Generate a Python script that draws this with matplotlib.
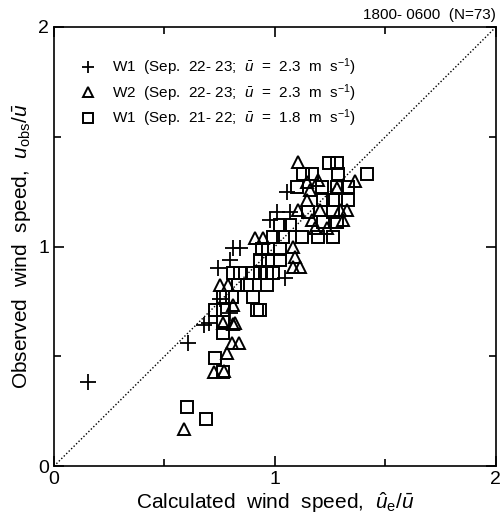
import numpy as np
import matplotlib.pyplot as plt

plt.rcParams['font.family'] = ['Liberation Sans', 'DejaVu Sans']
plt.rcParams['mathtext.fontset'] = 'custom'
plt.rcParams['mathtext.rm'] = 'Liberation Sans'
plt.rcParams['mathtext.it'] = 'Liberation Sans:italic'

# W1 (Sep. 22-23)
w1a_x = [0.154, 0.606, 0.679, 0.796, 0.742, 0.796, 0.810, 0.842, 1.045, 0.977,
         1.009, 1.068, 1.054, 0.752, 0.700]
w1a_y = [0.383, 0.560, 0.642, 0.697, 0.902, 0.938, 0.993, 0.993, 0.857, 1.121,
         1.157, 1.157, 1.248, 0.760, 0.650]

# W2 (Sep. 22-23)
w2_x = [1.104, 1.145, 1.195, 1.362, 1.158, 1.281, 1.145, 1.104, 1.204, 1.294,
        1.326, 1.167, 1.308, 1.181, 1.235, 0.910, 0.946, 1.081, 1.090, 1.081,
        1.113, 0.751, 0.787, 0.810, 0.819, 0.765, 0.810, 0.805, 0.837, 0.783,
        0.724, 0.769, 0.588]
w2_y = [1.385, 1.294, 1.303, 1.298, 1.257, 1.267, 1.212, 1.166, 1.166, 1.166,
        1.166, 1.121, 1.121, 1.084, 1.084, 1.039, 1.039, 0.998, 0.952, 0.907,
        0.907, 0.825, 0.825, 0.733, 0.651, 0.651, 0.647, 0.560, 0.560, 0.515,
        0.428, 0.433, 0.169]

# W1 (Sep. 21-22)
w1b_x = [1.244, 1.281, 1.127, 1.167, 1.285, 1.416, 1.100, 1.213, 1.281, 1.330,
         1.217, 1.262, 1.330, 1.149, 1.262, 1.023, 1.068, 1.217, 1.281, 0.991,
         1.036, 1.122, 1.195, 1.262, 0.941, 0.968, 1.023, 0.932, 0.968, 1.023,
         0.810, 0.842, 0.900, 0.932, 0.964, 0.991, 0.833, 0.873, 0.964, 0.765,
         0.805, 0.900, 0.729, 0.765, 0.919, 0.932, 0.765, 0.765, 0.729, 0.765,
         0.602, 0.688]
w1b_y = [1.380, 1.380, 1.330, 1.330, 1.330, 1.330, 1.271, 1.271, 1.271, 1.271,
         1.212, 1.212, 1.212, 1.157, 1.157, 1.098, 1.098, 1.112, 1.112, 1.043,
         1.043, 1.043, 1.043, 1.043, 0.989, 0.989, 0.989, 0.938, 0.938, 0.938,
         0.879, 0.879, 0.879, 0.879, 0.879, 0.879, 0.825, 0.825, 0.825, 0.770,
         0.770, 0.770, 0.711, 0.711, 0.711, 0.711, 0.656, 0.606, 0.492, 0.428,
         0.269, 0.214]

labels = [r'W1  (Sep.  22- 23;  $\bar{u}$  =  2.3  m  s$^{-1}$)',
          r'W2  (Sep.  22- 23;  $\bar{u}$  =  2.3  m  s$^{-1}$)',
          r'W1  (Sep.  21- 22;  $\bar{u}$  =  1.8  m  s$^{-1}$)']

fig = plt.figure(figsize=(5.04, 5.18), dpi=100)
ax = fig.add_axes([0.107, 0.100, 0.877, 0.848])

ax.plot([0, 2], [0, 2], color='black', linestyle=(0, (1, 1.5)), linewidth=1)
ax.plot(w1a_x, w1a_y, linestyle='none', marker='+', markersize=11,
        markeredgewidth=1.3, color='black', label=labels[0])
ax.plot(w2_x, w2_y, linestyle='none', marker='^', markersize=8,
        markerfacecolor='none', markeredgewidth=1.4, color='black', label=labels[1])
ax.plot(w1b_x, w1b_y, linestyle='none', marker='s', markersize=8,
        markerfacecolor='none', markeredgewidth=1.4, color='black', label=labels[2])

ax.set_xlim(0, 2)
ax.set_ylim(0, 2)
ax.set_xticks([0, 1, 2])
ax.set_yticks([0, 1, 2])
ax.set_xticks([0.5, 1.5], minor=True)
ax.set_yticks([0.5, 1.5], minor=True)
ax.tick_params(which='both', direction='in', top=True, right=True,
               labelsize=14, width=1.2)
ax.tick_params(which='major', length=7)
ax.tick_params(which='minor', length=5)
for s in ax.spines.values():
    s.set_linewidth(1.2)

ax.set_xlabel(r'Calculated  wind  speed,  $\hat{u}_{\rm e}/\bar{u}$', fontsize=15, labelpad=2)
ax.set_ylabel(r'Observed  wind  speed,  $u_{\rm obs}/\bar{u}$', fontsize=15, labelpad=4)
ax.set_title('1800- 0600  (N=73)', fontsize=11, loc='right', pad=6)

ax.legend(loc='upper left', bbox_to_anchor=(0.037, 0.946), frameon=False,
          fontsize=11, handletextpad=0.85, labelspacing=0.25, borderaxespad=0,
          handlelength=1.5, markerscale=0.85)

plt.savefig('out.png', dpi=100)
